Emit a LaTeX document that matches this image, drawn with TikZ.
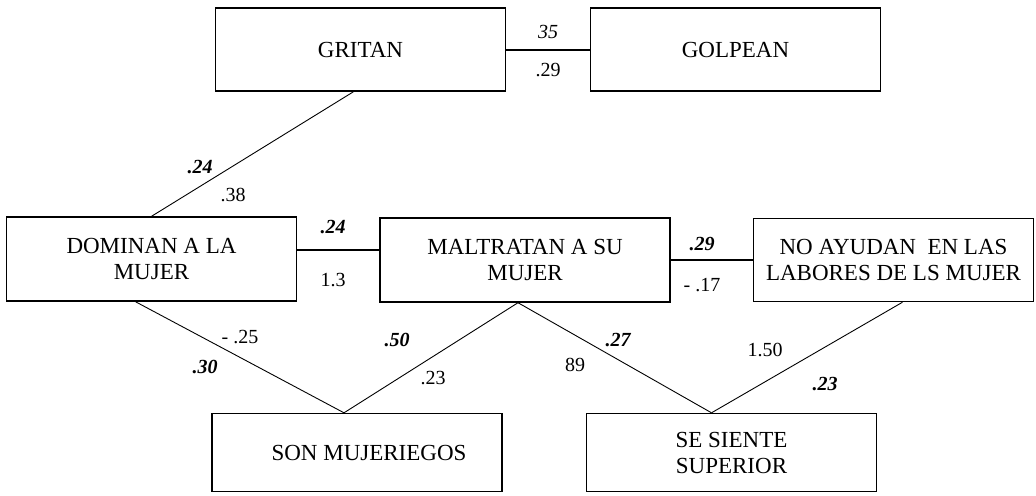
\documentclass[tikz,border=0pt]{standalone}
\usepackage{fontspec}
\setmainfont{Liberation Serif}
\usepackage{tikz}
\usetikzlibrary{positioning,calc}
\tikzset{
  varbox/.style={draw,line width=0.7pt,minimum width=145pt,minimum height=41.5pt,
    align=center,inner sep=2pt,font=\fontsize{11.5}{13}\selectfont},
  coefB/.style={font=\fontsize{10}{12}\selectfont\bfseries\itshape},
  coefN/.style={font=\fontsize{10}{12}\selectfont},
  corrln/.style={line width=1pt},
  pathln/.style={line width=0.45pt},
}

\begin{document}
\begin{tikzpicture}[x=0.5pt,y=-0.5pt]
        \useasboundingbox (0,0) rectangle (1036,495);
        % --- variables ---
        \node[varbox] (gritan)  at (360.5,49.5) {GRITAN};
        \node[varbox] (golpean) at (735.5,49.5) {GOLPEAN};
        \node[varbox,minimum height=42pt] (dominan)   at (151.5,259) {DOMINAN A LA\\MUJER};
        \node[varbox,minimum height=42pt] (maltratan) at (525,260) {MALTRATAN A SU\\MUJER};
        \node[varbox,minimum width=140pt] (noayudan)  at (893.5,260) {NO AYUDAN \ EN LAS\\LABORES DE LS MUJER};
        \node[varbox,minimum height=39pt] (mujeriegos) at (357,452.5) {\hspace{12pt}SON MUJERIEGOS};
        \node[varbox,minimum height=39pt] (superior)   at (731.5,452.5) {SE SIENTE\\SUPERIOR};
        % --- correlaciones ---
        \draw[corrln] (gritan.east) -- (golpean.west);
        \draw[corrln] ([yshift=4.5pt]dominan.east) -- ([yshift=4.5pt]dominan.east -| maltratan.west);
        \draw[corrln] (maltratan.east) -- (noayudan.west);
        % --- trayectorias ---
        \draw[pathln] ([xshift=-3.5pt]gritan.south) -- (dominan.north);
        \draw[pathln] ([xshift=-8pt]dominan.south) -- ([xshift=-6.5pt]mujeriegos.north);
        \draw[pathln] ([xshift=-3.5pt]maltratan.south) -- ([xshift=-6.5pt]mujeriegos.north);
        \draw[pathln] ([xshift=-3.5pt]maltratan.south) -- ([xshift=-10pt]superior.north);
        \draw[pathln] ([xshift=4.5pt]noayudan.south) -- ([xshift=-10pt]superior.north);
        % --- coeficientes ---
        \node[coefN,font=\fontsize{10}{12}\selectfont\itshape] at (548,32) {35};
        \node[coefN] at (548,70) {.29};
        \node[coefB] at (200,167) {.24};
        \node[coefN] at (233,195) {.38};
        \node[coefB] at (333,227) {.24};
        \node[coefN] at (333,280) {1.3};
        \node[coefB] at (702,244) {.29};
        \node[coefN] at (702,285) {- .17};
        \node[coefN] at (240,337) {- .25};
        \node[coefB] at (205,367) {.30};
        \node[coefB] at (397,340) {.50};
        \node[coefN] at (433,378) {.23};
        \node[coefB] at (618,340) {.27};
        \node[coefN] at (575,365) {89};
        \node[coefN] at (765,350) {1.50};
        \node[coefB] at (825,384) {.23};
      \end{tikzpicture}
\end{document}
